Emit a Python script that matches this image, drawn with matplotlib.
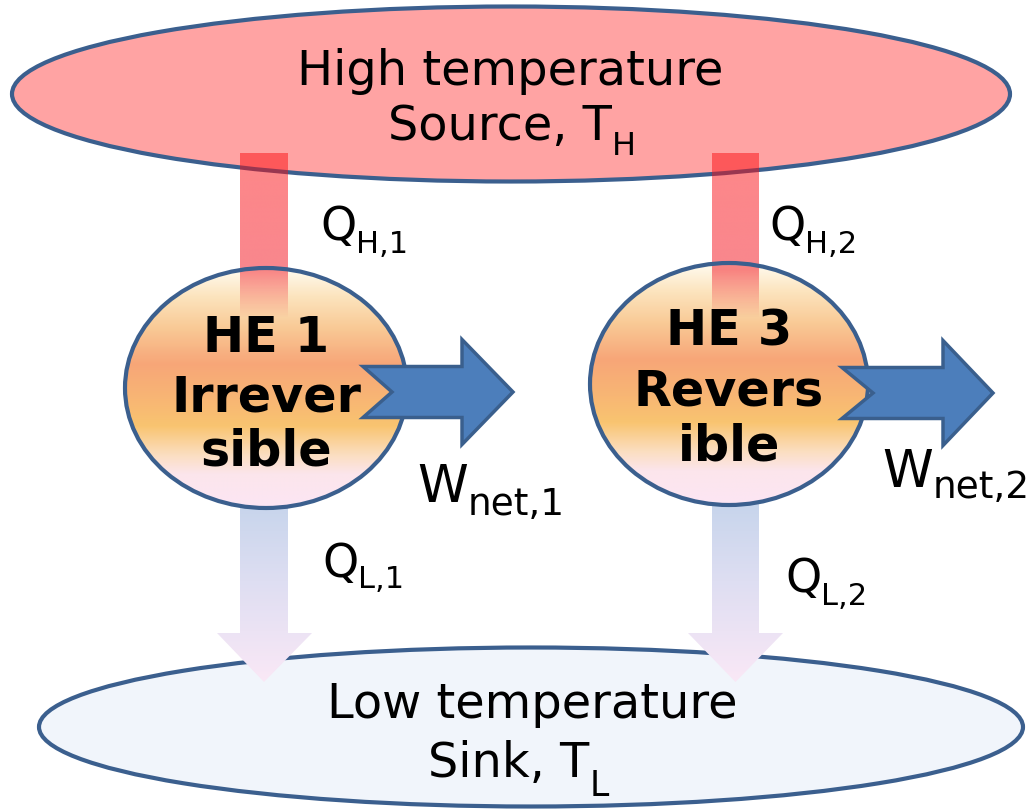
import matplotlib
matplotlib.use("Agg")
import matplotlib.pyplot as plt
import numpy as np
from matplotlib.patches import Ellipse, Polygon

# ---------------- content (text of the diagram) ----------------
source_line1 = "High temperature"
source_line2 = ("Source, T", "H")
sink_line1 = "Low temperature"
sink_line2 = ("Sink, T", "L")
engine_names = ["HE 1", "HE 3"]
engine_kinds = [["Irrever", "sible"], ["Revers", "ible"]]
heat_in_labels = [("Q", "H,1"), ("Q", "H,2")]
heat_out_labels = [("Q", "L,1"), ("Q", "L,2")]
work_labels = [("W", "net,1"), ("W", "net,2")]

# ---------------- layout (pixels, y downward) ----------------
W, H = 1028, 809
EDGE = "#3b5f8e"
src_center, src_size = (511, 94), (998, 175)
snk_center, snk_size = (531, 727), (984, 159)
eng_centers = [(266, 388), (729, 384)]
eng_sizes = [(282, 240), (278, 242)]
bar_x = [(240, 288), (712, 759)]
bar_top, bar_solid, bar_end = 153, 270, 318
out_head_x = [(217, 312), (688, 783)]
out_top, out_base, out_tip = 480, 633, 682
work_x = [(363, 392, 462, 513), (842, 873, 943, 993)]
work_y = [392, 393]

fig = plt.figure(figsize=(W / 100, H / 100), dpi=100)
ax = fig.add_axes([0, 0, 1, 1])
ax.set_xlim(0, W)
ax.set_ylim(H, 0)
ax.axis("off")


def vgrad(stops, n=256):
    t = np.linspace(0, 1, n)
    st = np.array([s[0] for s in stops])
    cols = np.array([s[1] for s in stops], dtype=float)
    out = np.zeros((n, 1, cols.shape[1]))
    for c in range(cols.shape[1]):
        out[:, 0, c] = np.interp(t, st, cols[:, c])
    return out / 255.0


# source / sink reservoirs
src = Ellipse(src_center, *src_size, facecolor="#ffa3a3", edgecolor=EDGE, lw=3.0, zorder=1)
ax.add_patch(src)
snk = Ellipse(snk_center, *snk_size, facecolor="#f1f5fb", edgecolor=EDGE, lw=3.0, zorder=1)
ax.add_patch(snk)

# heat rejected arrows (gradient, no edge)
out_stops = [(0.0, (192, 210, 234)), (0.5, (222, 222, 242)), (1.0, (250, 232, 246))]
for (x0, x1), (h0, h1) in zip(bar_x, out_head_x):
    xm = (x0 + x1) / 2
    poly = Polygon([(x0, out_top), (x1, out_top), (x1, out_base), (h1, out_base),
                    (xm, out_tip), (h0, out_base), (x0, out_base)], closed=True,
                   facecolor="none", edgecolor="none", zorder=2)
    ax.add_patch(poly)
    im = ax.imshow(vgrad(out_stops), extent=(h0, h1, out_tip, out_top), origin="upper",
                   aspect="auto", zorder=2, interpolation="bilinear")
    im.set_clip_path(poly)

# engines (gradient fill)
eng_stops = [(0.0, (255, 252, 242)), (0.12, (252, 228, 190)), (0.25, (249, 202, 150)),
             (0.40, (247, 166, 120)), (0.55, (248, 182, 116)), (0.66, (249, 196, 112)),
             (0.78, (251, 222, 192)), (0.86, (252, 229, 236)), (1.0, (252, 230, 244))]
for (cx, cy), (ew, eh) in zip(eng_centers, eng_sizes):
    e = Ellipse((cx, cy), ew, eh, facecolor="none", edgecolor="none", zorder=3)
    ax.add_patch(e)
    im = ax.imshow(vgrad(eng_stops), extent=(cx - ew / 2, cx + ew / 2, cy + eh / 2, cy - eh / 2),
                   origin="upper", aspect="auto", zorder=3, interpolation="bilinear")
    im.set_clip_path(e)

# heat input bars (semi-transparent red fading into engine)
n = 200
ys = np.linspace(bar_top, bar_end, n)
alpha = np.where(ys < bar_solid, 0.5, 0.5 * (bar_end - ys) / (bar_end - bar_solid))
rgba = np.zeros((n, 1, 4))
rgba[:, 0, 0] = np.interp(ys, [bar_top, bar_end], [252, 240]) / 255
rgba[:, 0, 1] = 14 / 255
rgba[:, 0, 2] = np.interp(ys, [bar_top, bar_end], [18, 30]) / 255
rgba[:, 0, 3] = alpha
for (x0, x1) in bar_x:
    ax.imshow(rgba, extent=(x0, x1, bar_end, bar_top), origin="upper", aspect="auto",
              zorder=4, interpolation="bilinear")

# engine outlines
for (cx, cy), (ew, eh) in zip(eng_centers, eng_sizes):
    ax.add_patch(Ellipse((cx, cy), ew, eh, facecolor="none", edgecolor=EDGE, lw=3.0, zorder=5))

# work arrows
for (xt, xn, xb, xp), yc in zip(work_x, work_y):
    hs, hh = 25.5, 52.5
    pts = [(xt, yc - hs), (xb, yc - hs), (xb, yc - hh), (xp, yc), (xb, yc + hh),
           (xb, yc + hs), (xt, yc + hs), (xn, yc)]
    ax.add_patch(Polygon(pts, closed=True, facecolor="#4c7ebb", edgecolor="#3a5f8d",
                         lw=2.5, joinstyle="miter", zorder=6))

FONT = "DejaVu Sans"


def sub_label(x, y, main, sub, size, sub_size, drop, ha="left"):
    t = ax.text(x, y, main, fontsize=size, family=FONT, ha=ha, va="baseline", zorder=7)
    ax.annotate(sub, xy=(1, y + drop), xycoords=(t, "data"), fontsize=sub_size,
                family=FONT, ha="left", va="baseline", zorder=7)
    return t


# reservoir texts
ax.text(510, 85, source_line1, fontsize=34.5, family=FONT, ha="center", va="baseline", zorder=7)
sub_label(388, 140, source_line2[0], source_line2[1], 34.5, 23, 15)
ax.text(532, 718, sink_line1, fontsize=34.5, family=FONT, ha="center", va="baseline", zorder=7)
sub_label(428, 777, sink_line2[0], sink_line2[1], 34.5, 25, 19)

# engine texts
eng_base = [[352, 411, 465], [345, 405, 460]]
for (cx, cy), name, kinds, bases in zip(eng_centers, engine_names, engine_kinds, eng_base):
    lines = [name] + kinds
    for s, yb in zip(lines, bases):
        ax.text(cx, yb, s, fontsize=35.5, family=FONT, fontweight="bold", ha="center",
                va="baseline", zorder=7)

# flow labels
sub_label(320, 240, *heat_in_labels[0], 33, 22, 13)
sub_label(769, 240, *heat_in_labels[1], 33, 22, 13)
sub_label(322, 577, *heat_out_labels[0], 33, 22, 11)
sub_label(785, 592, *heat_out_labels[1], 33, 22, 13)
sub_label(417, 502, *work_labels[0], 37, 27, 13)
sub_label(882, 487, *work_labels[1], 37, 27, 11)

ax.set_xlim(0, W)
ax.set_ylim(H, 0)
fig.savefig("out.png", dpi=100, facecolor="white")
